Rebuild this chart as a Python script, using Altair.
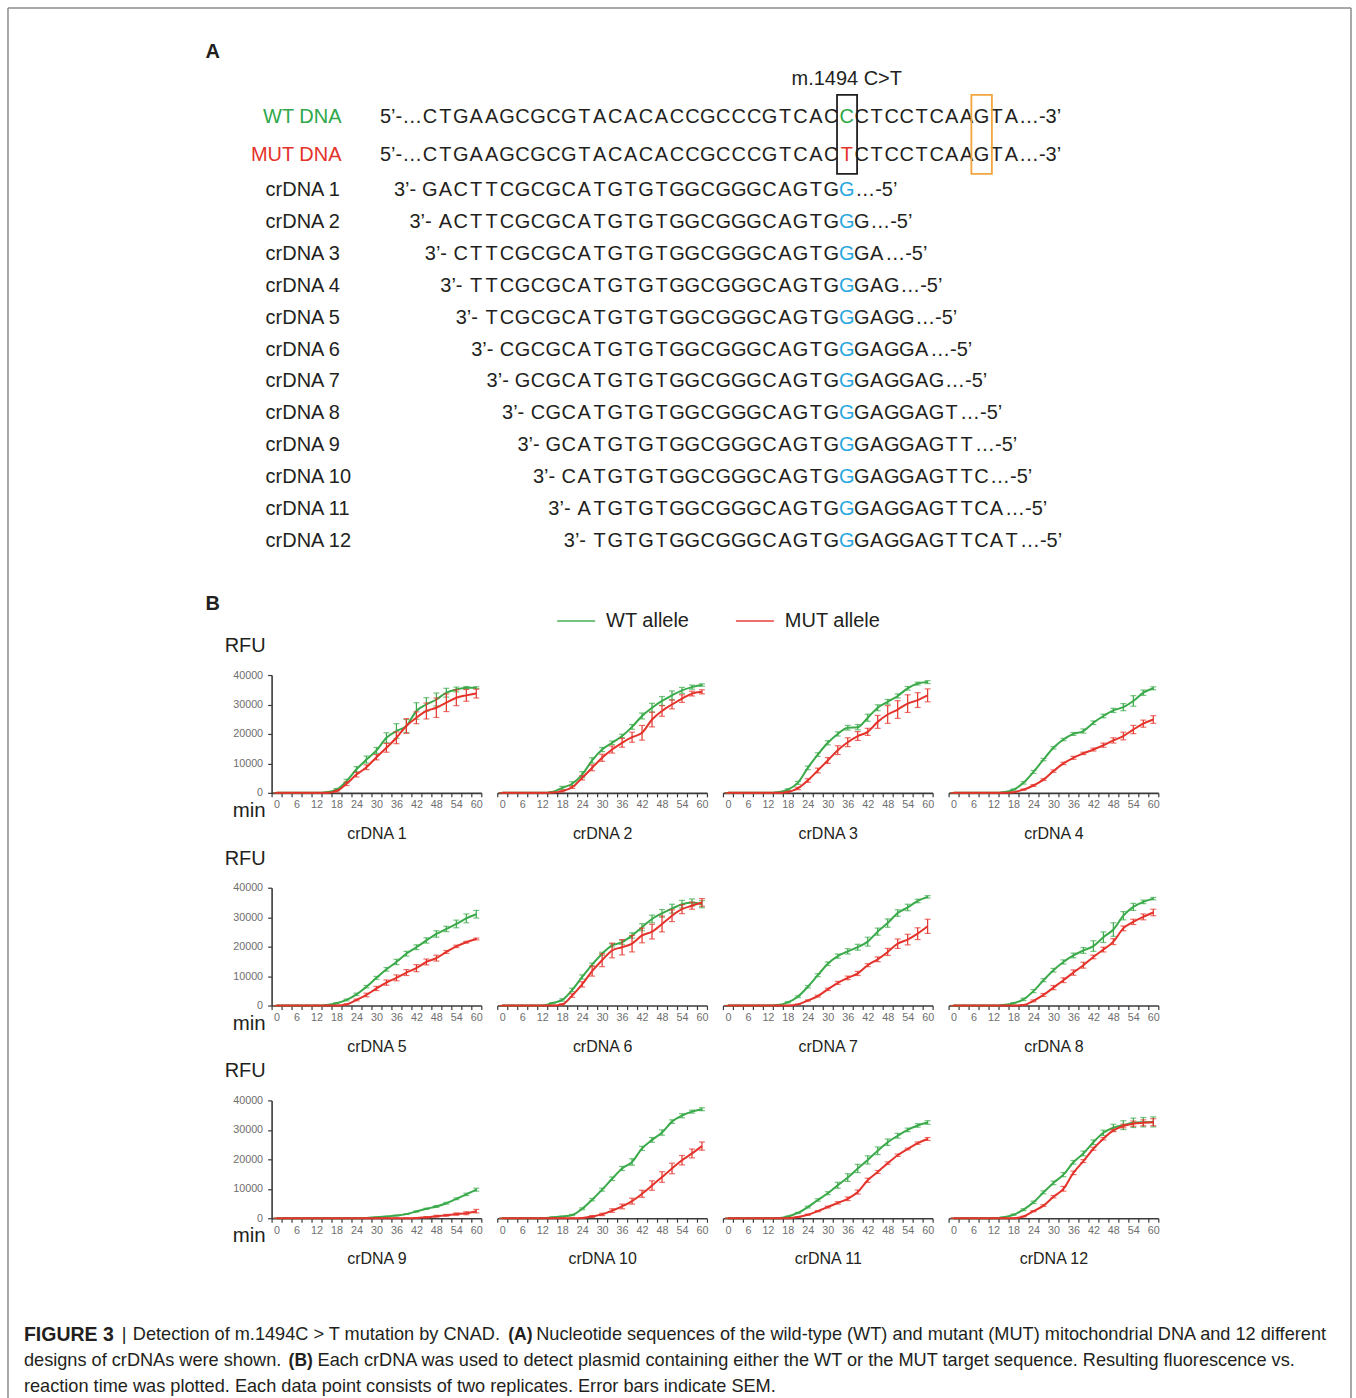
import altair as alt
import pandas as pd

FONT = "Liberation Sans"
INK = "#231f20"
GREEN = "#3aaa4a"
RED = "#e4332b"
SEQ_GREEN = "#2ea84a"
SEQ_RED = "#e4332b"
BLUE = "#2aa7e0"
ORANGE = "#f2a53c"
AXIS_INK = "#3a3a3a"
LABEL_GRAY = "#6e6e6e"
FRAME = "#8c8c8c"

# ---------------- panel A: sequences ----------------
TOP_LEFT = "CTGAAGCGCGTACACACCGCCCGTCAC"
TOP_RIGHT = "CTCCTCAAGTA"
WT_SITE = "C"
MUT_SITE = "T"
SITE_LABEL = "m.1494 C>T"
STRAND_LABELS = ["WT DNA", "MUT DNA"]
CRDNA_NAMES = [f"crDNA {i}" for i in range(1, 13)]
CRDNA_SEQS = [
    "GACTTCGCGCATGTGTGGCGGGCAGTGG",
    "ACTTCGCGCATGTGTGGCGGGCAGTGGG",
    "CTTCGCGCATGTGTGGCGGGCAGTGGGA",
    "TTCGCGCATGTGTGGCGGGCAGTGGGAG",
    "TCGCGCATGTGTGGCGGGCAGTGGGAGG",
    "CGCGCATGTGTGGCGGGCAGTGGGAGGA",
    "GCGCATGTGTGGCGGGCAGTGGGAGGAG",
    "CGCATGTGTGGCGGGCAGTGGGAGGAGT",
    "GCATGTGTGGCGGGCAGTGGGAGGAGTT",
    "CATGTGTGGCGGGCAGTGGGAGGAGTTC",
    "ATGTGTGGCGGGCAGTGGGAGGAGTTCA",
    "TGTGTGGCGGGCAGTGGGAGGAGTTCAT",
]
CRDNA_TAILS = [" …-5’", " …-5’", "…-5’", "…-5’", "…-5’", "…-5’",
               "…-5’", " …-5’", " …-5’", "…-5’", "…-5’", " …-5’"]

# ---------------- panel B: fluorescence kinetics ----------------
TIME_MIN = [0, 3, 6, 9, 12, 15, 18, 21, 24, 27, 30, 33, 36, 39, 42, 45, 48, 51, 54, 57, 60]
ALLELES = ["WT allele", "MUT allele"]

WT_RFU = [
    [0, 0, 0, 0, 0, 200, 1100, 4000, 8000, 11300, 14400, 18700, 21000, 22700, 27800, 30000, 31700, 34000, 35100, 35700, 35700],
    [0, 0, 0, 0, 0, 300, 1700, 3100, 6200, 11000, 14700, 17000, 19300, 22400, 26100, 28900, 31200, 33100, 34800, 35900, 36600],
    [0, 0, 0, 0, 0, 200, 1100, 3400, 8500, 13000, 17000, 20000, 22100, 22300, 25500, 28900, 30900, 32900, 35500, 37100, 37600],
    [0, 0, 0, 0, 0, 200, 1100, 3400, 7100, 11300, 15300, 18100, 20000, 21000, 23800, 26100, 28000, 29100, 31200, 34000, 35500],
    [0, 0, 0, 0, 0, 200, 800, 1900, 3800, 6400, 9400, 12300, 14800, 17600, 19800, 22100, 24300, 26000, 27700, 29600, 31000],
    [0, 0, 0, 0, 0, 800, 1900, 5300, 9700, 13900, 17600, 20400, 21500, 23800, 26600, 29400, 31300, 32900, 34400, 35000, 34400],
    [0, 0, 0, 0, 0, 200, 1100, 3000, 6400, 10300, 14200, 16800, 18400, 19800, 21700, 25100, 28000, 31400, 33300, 35500, 36900],
    [0, 0, 0, 0, 0, 200, 800, 2100, 4900, 8600, 12000, 14800, 17000, 18700, 20200, 23200, 25800, 30500, 33500, 35200, 36300],
    [0, 0, 0, 0, 0, 0, 0, 0, 0, 100, 300, 600, 900, 1400, 2300, 3200, 4000, 5100, 6600, 8100, 9700],
    [0, 0, 0, 0, 0, 300, 600, 1100, 3200, 6300, 9700, 13400, 16900, 19100, 23700, 26600, 29100, 32800, 34800, 36200, 37000],
    [0, 0, 0, 0, 0, 0, 600, 1800, 3800, 6200, 8500, 11200, 13800, 16900, 19800, 22900, 25800, 28000, 30000, 31500, 32500],
    [0, 0, 0, 0, 0, 300, 1200, 2900, 5400, 8800, 12000, 14800, 19000, 22000, 25800, 29000, 30700, 31600, 32400, 32600, 32700],
]
WT_SEM = [
    [0, 0, 0, 0, 0, 100, 400, 600, 900, 1200, 1000, 1700, 2500, 2200, 2800, 2300, 2200, 1500, 800, 400, 300],
    [0, 0, 0, 0, 0, 100, 500, 700, 1000, 900, 700, 600, 600, 800, 1000, 1500, 1500, 1500, 1000, 700, 400],
    [0, 0, 0, 0, 0, 100, 300, 500, 600, 600, 700, 700, 800, 900, 1200, 1000, 800, 700, 600, 500, 500],
    [0, 0, 0, 0, 0, 100, 200, 400, 500, 400, 400, 400, 500, 700, 600, 600, 700, 1200, 1800, 900, 500],
    [0, 0, 0, 0, 0, 100, 200, 300, 400, 400, 500, 600, 900, 800, 800, 900, 1100, 900, 1300, 1500, 1300],
    [0, 0, 0, 0, 0, 200, 400, 600, 700, 500, 500, 500, 700, 900, 1200, 1300, 1300, 1500, 1300, 1200, 1200],
    [0, 0, 0, 0, 0, 100, 200, 300, 400, 500, 600, 700, 900, 1000, 1500, 1200, 1400, 1100, 1100, 600, 400],
    [0, 0, 0, 0, 0, 100, 200, 400, 500, 500, 600, 700, 800, 1000, 1800, 1800, 2300, 1400, 1200, 600, 400],
    [0, 0, 0, 0, 0, 0, 0, 0, 0, 0, 100, 100, 100, 100, 200, 200, 300, 300, 300, 400, 500],
    [0, 0, 0, 0, 0, 0, 100, 200, 300, 400, 500, 600, 700, 1100, 700, 800, 900, 600, 700, 500, 500],
    [0, 0, 0, 0, 0, 0, 100, 200, 300, 400, 500, 1000, 1300, 1400, 1400, 1300, 1100, 800, 600, 600, 600],
    [0, 0, 0, 0, 0, 100, 200, 300, 400, 500, 600, 700, 600, 800, 800, 900, 1200, 1500, 1600, 1600, 1700],
]
MUT_RFU = [
    [0, 0, 0, 0, 0, 0, 600, 3100, 6200, 8700, 12100, 15300, 18700, 22700, 25500, 27800, 28900, 30600, 32300, 33100, 33700],
    [0, 0, 0, 0, 0, 100, 600, 1900, 5100, 8500, 11900, 14700, 17000, 18900, 20400, 24900, 27800, 30000, 32000, 33700, 34300],
    [0, 0, 0, 0, 0, 0, 300, 1500, 4200, 7600, 11000, 14500, 17200, 19300, 20700, 24100, 26600, 28300, 30300, 31500, 33100],
    [0, 0, 0, 0, 0, 0, 200, 1100, 2500, 4500, 7400, 10000, 11900, 13400, 14700, 16200, 17800, 19300, 21500, 23500, 24900],
    [0, 0, 0, 0, 0, 0, 0, 400, 1900, 3600, 5800, 7800, 9400, 11200, 12700, 14800, 16100, 18200, 20100, 21500, 22600],
    [0, 0, 0, 0, 0, 0, 400, 3400, 7200, 11700, 15400, 18700, 19800, 21000, 23800, 25100, 27700, 30500, 32700, 33900, 35000],
    [0, 0, 0, 0, 0, 0, 0, 400, 1700, 3200, 5500, 7700, 9400, 10900, 13700, 15700, 18200, 21000, 22400, 24400, 26900],
    [0, 0, 0, 0, 0, 0, 0, 200, 1600, 3600, 6100, 8600, 11200, 13700, 16500, 19000, 21700, 26200, 28400, 30100, 31600],
    [0, 0, 0, 0, 0, 0, 0, 0, 0, 0, 0, 0, 0, 0, 100, 300, 700, 1000, 1400, 1700, 2400],
    [0, 0, 0, 0, 0, 0, 0, 0, 100, 600, 1300, 2600, 4000, 5800, 8300, 11100, 14000, 16900, 19700, 22000, 24500],
    [0, 0, 0, 0, 0, 0, 0, 400, 1200, 2400, 3800, 5200, 6600, 8900, 12900, 15700, 18700, 21400, 23500, 25500, 26900],
    [0, 0, 0, 0, 0, 0, 0, 600, 2400, 4300, 7300, 10000, 15400, 19400, 23600, 27000, 29800, 31300, 32100, 32400, 32600],
]
MUT_SEM = [
    [0, 0, 0, 0, 0, 0, 300, 600, 800, 800, 900, 1500, 2000, 2500, 2000, 2700, 3300, 3000, 2700, 2000, 1500],
    [0, 0, 0, 0, 0, 0, 300, 400, 700, 1000, 1200, 1200, 1500, 1700, 2500, 2500, 1800, 1500, 1300, 800, 700],
    [0, 0, 0, 0, 0, 0, 200, 400, 600, 800, 1000, 1500, 1500, 1500, 1200, 2200, 3000, 3000, 3000, 2500, 2200],
    [0, 0, 0, 0, 0, 0, 100, 200, 300, 300, 400, 400, 500, 400, 500, 700, 900, 1300, 1400, 1200, 1300],
    [0, 0, 0, 0, 0, 0, 0, 200, 300, 600, 700, 900, 1000, 1000, 1200, 1000, 1000, 500, 400, 300, 300],
    [0, 0, 0, 0, 0, 0, 200, 600, 900, 1700, 2200, 2500, 2600, 2800, 2500, 2500, 2700, 2000, 1500, 1200, 1300],
    [0, 0, 0, 0, 0, 0, 0, 100, 200, 300, 400, 500, 600, 700, 500, 800, 1200, 1600, 1800, 2000, 2400],
    [0, 0, 0, 0, 0, 0, 0, 100, 300, 500, 700, 800, 900, 1000, 600, 800, 1000, 800, 900, 1000, 1100],
    [0, 0, 0, 0, 0, 0, 0, 0, 0, 0, 0, 0, 0, 0, 100, 200, 300, 300, 400, 500, 600],
    [0, 0, 0, 0, 0, 0, 0, 0, 100, 300, 400, 600, 800, 1000, 1200, 1600, 1800, 1800, 1600, 1500, 1400],
    [0, 0, 0, 0, 0, 0, 0, 100, 200, 200, 300, 400, 600, 700, 700, 500, 400, 400, 300, 400, 500],
    [0, 0, 0, 0, 0, 0, 0, 100, 200, 300, 400, 800, 600, 500, 500, 400, 400, 600, 900, 1000, 1200],
]

# ---------------- layout ----------------
OY = 674          # page y of the first row of plots; the canvas cell sits there
ONE = pd.DataFrame({"_": [0]})
NBSP = "\u00a0"


def txt(text, x, y, size, color=INK, align="left", weight="normal"):
    return alt.Chart(ONE).mark_text(
        align=align, baseline="middle", font=FONT, fontSize=size,
        fontWeight=weight, color=color,
    ).encode(x=alt.value(x), y=alt.value(y - OY), text=alt.value(text))


def rule(x, y, x2=None, y2=None, color=FRAME, width=1.5):
    enc = {"x": alt.value(x), "y": alt.value(y - OY)}
    if x2 is not None:
        enc["x2"] = alt.value(x2)
    if y2 is not None:
        enc["y2"] = alt.value(y2 - OY)
    return alt.Chart(ONE).mark_rule(color=color, strokeWidth=width).encode(**enc)


# one column per base of the top strand; crDNAs sit under their complement
site_col = len(TOP_LEFT)
last_col = site_col + len(TOP_RIGHT)
pam_col = site_col + 1 + TOP_RIGHT.index("G")

COL_SCALE = alt.Scale(domain=[0, site_col, last_col], range=[429.5, 847, 1012], nice=False, zero=False)
ROW_SCALE = alt.Scale(domain=[-1, 0, 1, 12],
                      range=[115 - OY, 153 - OY, 188 - OY, 540 - OY], nice=False, zero=False)


def XCOL(f):
    return alt.X(f, scale=COL_SCALE, axis=None)


YROW = alt.Y("key:Q", scale=ROW_SCALE, axis=None)
SEQ_SIZE = 20

recs = []


def add_strand(key, seq, first, mark_color):
    for i, ch in enumerate(seq):
        c = first + i
        recs.append({"key": key, "col": c, "ch": ch, "hl": mark_color if c == site_col else ""})


add_strand(-1, TOP_LEFT + WT_SITE + TOP_RIGHT, 0, SEQ_GREEN)
add_strand(0, TOP_LEFT + MUT_SITE + TOP_RIGHT, 0, SEQ_RED)
for k, s in enumerate(CRDNA_SEQS, start=1):
    add_strand(k, s, k - 1, BLUE)
bases = pd.DataFrame(recs)


def seq_text(df, color=INK, align="center", dx=0):
    return alt.Chart(df).mark_text(font=FONT, fontSize=SEQ_SIZE, color=color, align=align,
                                   baseline="middle", dx=dx)


seq_layers = [seq_text(bases[bases.hl == ""]).encode(x=XCOL("col:Q"), y=YROW, text="ch:N")]
for c in (SEQ_GREEN, SEQ_RED, BLUE):
    seq_layers.append(seq_text(bases[bases.hl == c], c).encode(x=XCOL("col:Q"), y=YROW, text="ch:N"))

cr = pd.DataFrame({
    "key": list(range(1, 13)),
    "name": CRDNA_NAMES,
    "pcol": [k - 1.5 for k in range(1, 13)],
    "scol": [k + 26.5 for k in range(1, 13)],
    "tail": [t.replace(" ", NBSP) for t in CRDNA_TAILS],
})
top = pd.DataFrame({"key": [-1, 0], "pcol": [-0.5, -0.5], "scol": [last_col + 0.5] * 2})

seq_layers += [
    seq_text(top, align="right").encode(x=XCOL("pcol:Q"), y=YROW, text=alt.value("5’-…")),
    seq_text(top, align="left").encode(x=XCOL("scol:Q"), y=YROW, text=alt.value("…-3’")),
    seq_text(cr, align="right", dx=-6).encode(x=XCOL("pcol:Q"), y=YROW, text=alt.value("3’-")),
    seq_text(cr, align="left", dx=1).encode(x=XCOL("scol:Q"), y=YROW, text="tail:N"),
    alt.Chart(cr).mark_text(font=FONT, fontSize=20, color=INK, align="left", baseline="middle").encode(
        x=alt.value(265), y=YROW, text="name:N"),
    txt(STRAND_LABELS[0], 341, 115, 20, SEQ_GREEN, "right"),
    txt(STRAND_LABELS[1], 341, 153, 20, SEQ_RED, "right"),
    alt.Chart(pd.DataFrame({"col": [site_col]})).mark_text(
        font=FONT, fontSize=20, color=INK, baseline="middle").encode(
        x=XCOL("col:Q"), y=alt.value(77 - OY), text=alt.value(SITE_LABEL)),
]

boxes = pd.DataFrame({"x0": [site_col - 0.63, pam_col - 0.68], "x1": [site_col + 0.69, pam_col + 0.69]})
for i, c in enumerate((INK, ORANGE)):
    seq_layers.append(
        alt.Chart(boxes.iloc[[i]]).mark_rect(fillOpacity=0, stroke=c, strokeWidth=1.8).encode(
            x=XCOL("x0:Q"), x2="x1:Q", y=alt.value(93 - OY), y2=alt.value(172 - OY)))

page = alt.Chart(ONE).mark_rect(color="white").encode(
    x=alt.value(0), x2=alt.value(1356), y=alt.value(-OY), y2=alt.value(1398 - OY))

decor = [
    rule(7, 6, x2=1352), rule(7, 6, y2=1398), rule(1352, 6, y2=1398),
    txt("A", 212, 50, 20, align="center", weight="bold"),
    txt("B", 212, 603, 20, align="center", weight="bold"),
]
for r in range(3):
    decor.append(txt("RFU", 224, 645 + 213 * r, 20))
    decor.append(txt("min", 265, 810 + 213 * r, 20.5, align="right"))

CAP = 18.2
caption = [
    txt("FIGURE 3", 23, 1335, 19.5, weight="bold"),
    txt("|", 121, 1335, CAP),
    txt("Detection of m.1494C > T mutation by CNAD.", 132, 1335, CAP),
    txt("(A)", 508, 1335, 17.5, weight="bold"),
    txt("Nucleotide sequences of the wild-type (WT) and mutant (MUT) mitochondrial DNA and 12 different",
        536, 1335, CAP),
    txt("designs of crDNAs were shown.", 23, 1361, CAP),
    txt("(B)", 288, 1361, 17.5, weight="bold"),
    txt("Each crDNA was used to detect plasmid containing either the WT or the MUT target sequence. "
        "Resulting fluorescence vs.", 317, 1361, CAP),
    txt("reaction time was plotted. Each data point consists of two replicates. Error bars indicate SEM.",
        23, 1387, CAP),
]

canvas = alt.layer(page, *decor, *seq_layers, *caption).properties(width=255, height=118)

# ---------------- kinetics panels ----------------
X_SCALE = alt.Scale(domain=[-1.5, 61.5], nice=False, zero=False)
Y_SCALE = alt.Scale(domain=[0, 40000], nice=False)
CAT_EDGES = [-1.5 + 3 * i for i in range(22)]
X_LABELS = list(range(0, 61, 6))
X_VALUES = sorted(CAT_EDGES + X_LABELS)

LEGEND = alt.Legend(
    title=None, orient="none", legendX=556, legendY=600 - OY, direction="horizontal",
    symbolType="stroke", symbolSize=1444, symbolStrokeWidth=2,
    labelFont=FONT, labelFontSize=20, labelColor=INK, labelOffset=10,
    columnPadding=42, padding=0,
)
COLOR = alt.Color("allele:N", scale=alt.Scale(domain=ALLELES, range=[GREEN, RED]), legend=LEGEND)


def x_axis(title):
    return alt.Axis(
        values=X_VALUES, format="d",
        labelExpr="datum.value % 6 === 0 ? datum.label : ''",
        tickOpacity={"condition": {"test": "datum.value % 6 === 0", "value": 0}, "value": 1},
        tickSize=4, tickWidth=1.2, tickColor=AXIS_INK,
        domainColor=AXIS_INK, domainWidth=1.6,
        labelFont=FONT, labelFontSize=10.8, labelColor=LABEL_GRAY, labelPadding=2,
        labelOverlap=False, labelFlush=False, grid=False,
        title=title, titleFont=FONT, titleFontSize=16, titleFontWeight="normal",
        titleColor=INK, titlePadding=16,
    )


Y_AXIS = alt.Axis(
    values=[0, 10000, 20000, 30000, 40000], format="d",
    tickSize=4, tickWidth=1.2, tickColor=AXIS_INK, domainColor=AXIS_INK, domainWidth=1.6,
    labelFont=FONT, labelFontSize=10.8, labelColor=LABEL_GRAY, labelPadding=5,
    labelFlush=False, grid=False, title="",
)


def panel(i):
    # every layer carries the same axis definition so the merged axis is kept
    xa = x_axis(CRDNA_NAMES[i])
    ya = Y_AXIS if i % 4 == 0 else None
    layers = []
    for allele, mean, sem in ((ALLELES[0], WT_RFU[i], WT_SEM[i]), (ALLELES[1], MUT_RFU[i], MUT_SEM[i])):
        df = pd.DataFrame({"t": TIME_MIN, "value": mean, "sem": sem, "allele": allele})
        df["lo"] = df["value"] - df["sem"]
        df["hi"] = df["value"] + df["sem"]
        line = alt.Chart(df).mark_line(strokeWidth=2, interpolate="monotone").encode(
            x=alt.X("t:Q", scale=X_SCALE, axis=xa),
            y=alt.Y("value:Q", scale=Y_SCALE, axis=ya),
            color=COLOR,
        )
        err = alt.Chart(df).mark_errorbar(ticks=True, size=6, thickness=1.2).encode(
            x=alt.X("t:Q", scale=X_SCALE, axis=xa),
            y=alt.Y("lo:Q", scale=Y_SCALE, axis=ya),
            y2="hi:Q",
            color=COLOR,
        )
        layers += [line, err]
    return alt.layer(*layers).properties(width=210, height=118)


panels = [panel(i) for i in range(12)]
spacer = alt.Chart(ONE).mark_point(opacity=0, size=1).encode(
    x=alt.value(20), y=alt.value(20)).properties(width=1, height=1)

cells = [canvas] + panels[0:4] + [spacer] + panels[4:8] + [spacer] + panels[8:12]

chart = alt.concat(
    *cells, columns=5, spacing={"row": 95, "column": 16}, align="each", bounds="flush",
).properties(padding=0, background="white").configure_view(stroke="transparent")

chart.save("out.html", embed_options={"renderer": "svg", "actions": False})
